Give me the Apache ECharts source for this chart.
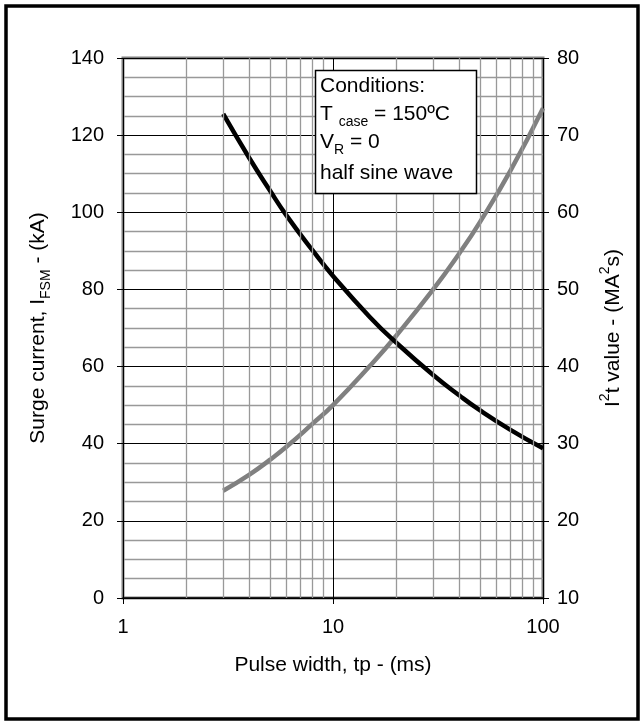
<!DOCTYPE html>
<html>
<head>
<meta charset="utf-8">
<script src="https://cdn.jsdelivr.net/npm/echarts@6/dist/echarts.min.js"></script>
<style>
html,body{margin:0;padding:0;background:#fff;}
#c{width:644px;height:726px;}
</style>
</head>
<body>
<div id="c"></div>
<script>
// Pulse width (ms)
var pulseWidth = [3, 4, 5, 6, 8, 10, 15, 20, 30, 40, 50, 70, 100];
// Surge current I_FSM (kA), left axis
var surgeCurrent = [125.5, 114, 105.7, 99.2, 90.1, 83.5, 72.8, 66.2, 57.8, 52.5, 48.7, 43.6, 38.8];
// I2t value (MA2s), right axis
var i2tValue = [23.9, 26.0, 27.9, 29.6, 32.6, 35.0, 40.1, 44.0, 50.0, 54.7, 58.7, 65.4, 73.5];
// minor vertical grid positions on log axis
var minorX = [2, 3, 4, 5, 6, 7, 8, 9, 20, 30, 40, 50, 60, 70, 80, 90];
var xTicks = [1, 10, 100];
var leftTicks = [0, 20, 40, 60, 80, 100, 120, 140];
var rightTicks = [10, 20, 30, 40, 50, 60, 70, 80];

var FONT = '"Liberation Sans", Arial, sans-serif';

function pairs(xs, ys) { return xs.map(function (x, i) { return [x, ys[i]]; }); }

var chart = echarts.init(document.getElementById('c'), null, {renderer: 'canvas'});
chart.setOption({
  animation: false,
  backgroundColor: '#fff',
  textStyle: {fontFamily: FONT},
  grid: {left: 123, top: 58, width: 420, height: 540, show: true,
         borderColor: '#808080', borderWidth: 3, backgroundColor: 'transparent'},
  xAxis: {
    type: 'log', logBase: 10, min: xTicks[0], max: xTicks[xTicks.length - 1],
    splitNumber: 2,
    name: 'Pulse width, tp - (ms)', nameLocation: 'middle', nameGap: 57,
    nameTextStyle: {fontSize: 21, color: '#000', fontFamily: FONT},
    axisLine: {show: true, onZero: false, lineStyle: {color: '#000', width: 1.5}},
    axisTick: {show: true, length: 6, lineStyle: {color: '#000', width: 1}},
    axisLabel: {fontSize: 20, color: '#000', margin: 19, fontFamily: FONT},
    splitLine: {show: true, lineStyle: {color: '#000', width: 1}},
    minorTick: {show: false}, minorSplitLine: {show: false}
  },
  yAxis: [{
    type: 'value', min: 0, max: 140, interval: 20, position: 'left',
    name: '{a|Surge current, I}{b|FSM}{a| - (kA)}', nameLocation: 'middle', nameGap: 70,
    nameTextStyle: {color: '#000', fontFamily: FONT,
      rich: {a: {fontSize: 21, lineHeight: 22, verticalAlign: 'middle', fontFamily: FONT, color: '#000'},
             b: {fontSize: 14, lineHeight: 30, verticalAlign: 'bottom', fontFamily: FONT, color: '#000'}}},
    axisLine: {show: false},
    axisTick: {show: true, length: 6, lineStyle: {color: '#000', width: 1}},
    axisLabel: {fontSize: 20, color: '#000', margin: 19, fontFamily: FONT,
                formatter: function (v) { return leftTicks.indexOf(v) >= 0 ? String(v) : ''; }},
    splitLine: {show: true, lineStyle: {color: '#000', width: 1}},
    minorTick: {show: false, splitNumber: 4},
    minorSplitLine: {show: true, lineStyle: {color: '#999', width: 1.3}}
  }, {
    type: 'value', min: 10, max: 80, interval: 10, position: 'right',
    name: '{a|I}{p|2}{a|t value - (MA}{p|2}{a|s)}', nameLocation: 'middle', nameGap: 55,
    nameTextStyle: {color: '#000', fontFamily: FONT,
      rich: {a: {fontSize: 21, lineHeight: 26, verticalAlign: 'bottom', fontFamily: FONT, color: '#000'},
             p: {fontSize: 14, lineHeight: 26, verticalAlign: 'top', fontFamily: FONT, color: '#000'}}},
    axisLine: {show: false},
    axisTick: {show: true, length: 6, lineStyle: {color: '#000', width: 1}},
    axisLabel: {fontSize: 20, color: '#000', margin: 14, fontFamily: FONT,
                formatter: function (v) { return rightTicks.indexOf(v) >= 0 ? String(v) : ''; }},
    splitLine: {show: false}
  }],
  series: [{
    type: 'line', name: 'grid', data: [], z: 1, silent: true,
    markLine: {
      silent: true, symbol: ['none', 'none'], animation: false,
      label: {show: false},
      lineStyle: {color: '#999', width: 1.3, type: 'solid'},
      emphasis: {disabled: true},
      data: minorX.map(function (x) { return {xAxis: x}; })
    }
  }, {
    type: 'line', name: 'I2t', yAxisIndex: 1, z: 3,
    data: pairs(pulseWidth, i2tValue),
    smooth: 0.5, showSymbol: false, symbol: 'none',
    lineStyle: {color: '#808080', width: 4.5, cap: 'butt'}
  }, {
    type: 'line', name: 'IFSM', yAxisIndex: 0, z: 4,
    data: pairs(pulseWidth, surgeCurrent),
    smooth: 0.5, showSymbol: false, symbol: 'none',
    lineStyle: {color: '#000', width: 4.5, cap: 'butt'}
  }],
  graphic: [
    {type: 'rect', z: 100, shape: {x: 6, y: 6, width: 632, height: 713},
     style: {fill: 'none', stroke: '#000', lineWidth: 3.5}},
    {type: 'rect', z: 100, shape: {x: 315.5, y: 70.5, width: 161, height: 123},
     style: {fill: '#fff', stroke: '#000', lineWidth: 1.5}},
    {type: 'text', z: 101, left: 320, top: 76,
     style: {text: 'Conditions:', font: '21px ' + FONT, fill: '#000'}},
    {type: 'text', z: 101, left: 320, top: 104,
     style: {text: '{a|T }{s|case}{a| = 150ºC}', fill: '#000',
       rich: {a: {fontSize: 21, lineHeight: 22, verticalAlign: 'middle', fontFamily: FONT},
              s: {fontSize: 14, lineHeight: 30, verticalAlign: 'bottom', fontFamily: FONT}}}},
    {type: 'text', z: 101, left: 320, top: 132,
     style: {text: '{a|V}{s|R}{a| = 0}', fill: '#000',
       rich: {a: {fontSize: 21, lineHeight: 22, verticalAlign: 'middle', fontFamily: FONT},
              s: {fontSize: 14, lineHeight: 30, verticalAlign: 'bottom', fontFamily: FONT}}}},
    {type: 'text', z: 101, left: 320, top: 163,
     style: {text: 'half sine wave', font: '21px ' + FONT, fill: '#000'}}
  ]
});
</script>
</body>
</html>
